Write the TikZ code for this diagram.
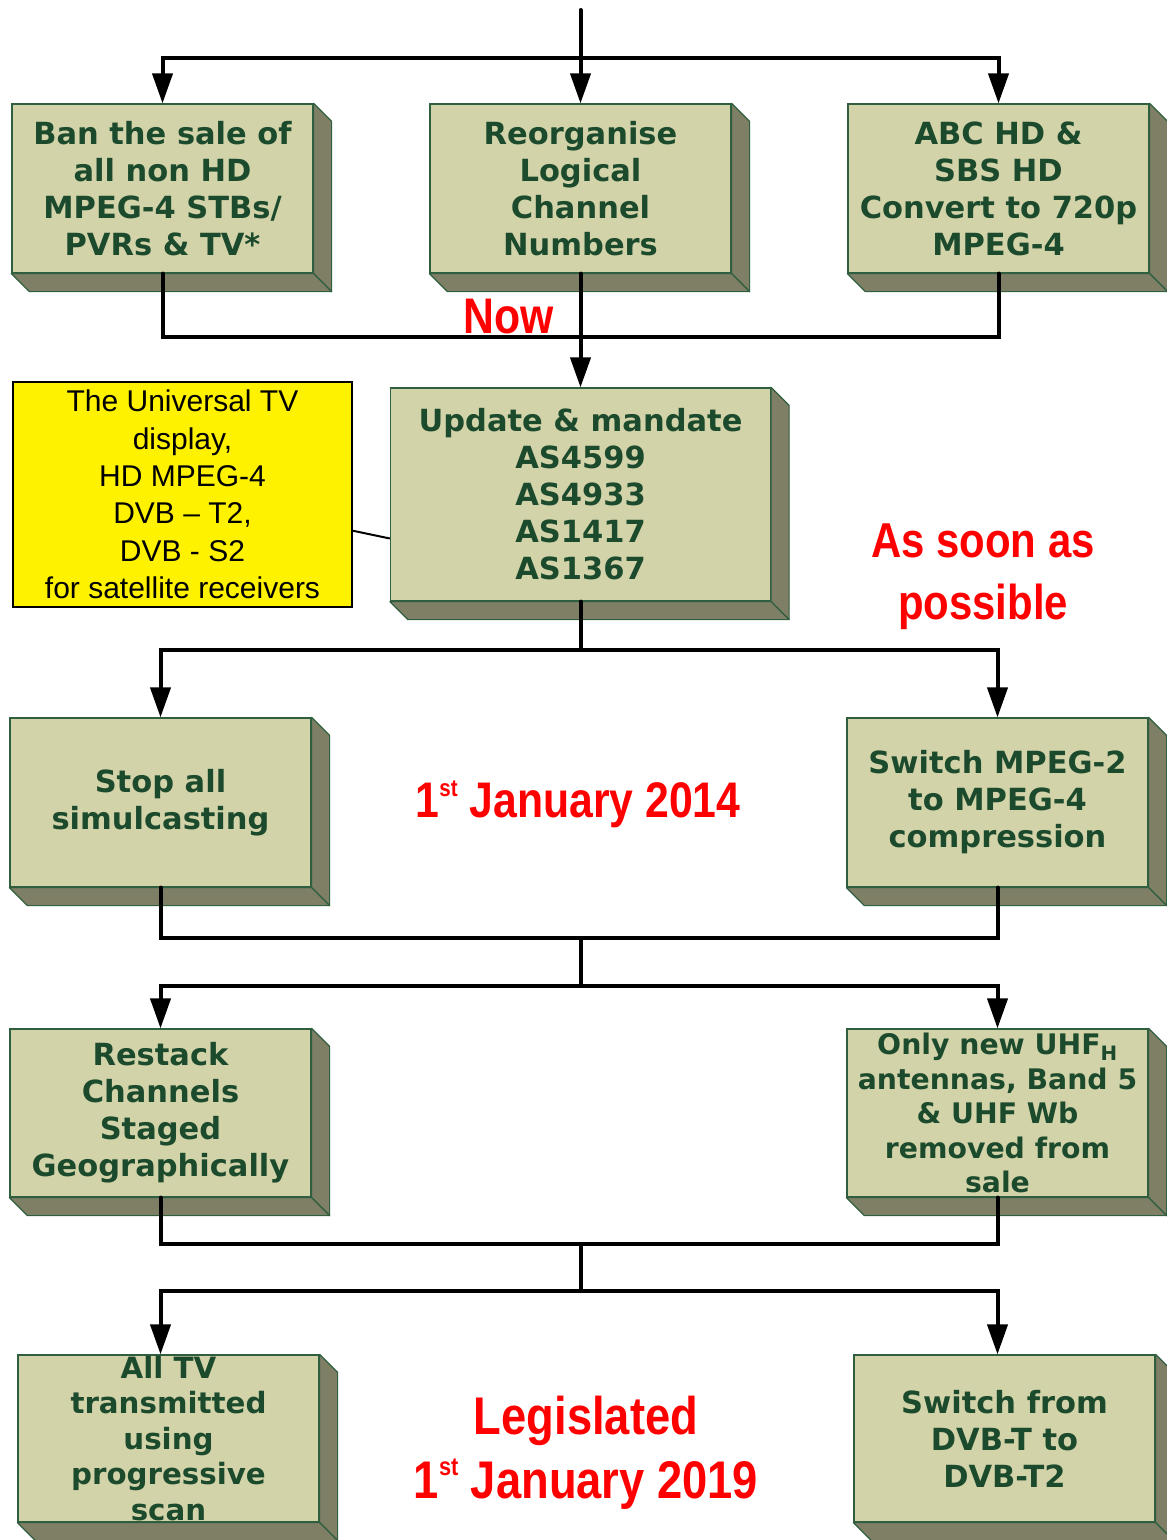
\documentclass[tikz,border=0pt]{standalone}
\usepackage{fontspec}
\newfontfamily\greenfont{DejaVu Sans}
\newfontfamily\notefont{Liberation Sans}
\newfontfamily\redfont{Liberation Sans}[FakeStretch=0.855]
\usepackage{tikz}
\usetikzlibrary{arrows.meta, calc}

\definecolor{boxfill}{HTML}{D3D3AA}
\definecolor{boxside}{HTML}{7F7F66}
\definecolor{boxedge}{HTML}{2F5F3F}
\definecolor{boxtext}{HTML}{1C4A2C}

\newcommand\ordsup[1]{\raisebox{0.42em}{\scalebox{0.48}{#1}}}

\tikzset{
	stage/.style={draw=boxedge, fill=boxfill, line width=1.2pt, text=boxtext, align=center,
		inner sep=0pt, minimum width=301pt, minimum height=169pt,
		font=\greenfont\bfseries\fontsize{30.5}{37}\selectfont},
	side/.style={draw=boxedge, fill=boxside, line width=1.2pt, line join=round},
	conn/.style={line width=4pt, line cap=round},
	when/.style={text=red, anchor=base, inner sep=0pt},
	note/.style={draw=black, fill=yellow, line width=2pt, align=center, inner sep=0pt,
		minimum width=339pt, minimum height=225pt,
		font=\notefont\fontsize{30}{37.4}\selectfont}
}

\begin{document}
\begin{tikzpicture}[x=1pt, y=-1pt, >={Triangle[length=30pt, width=20pt]}]

		\useasboundingbox (0,0) rectangle (1167,1540);

		% Row 1: immediate actions
		\node[stage] (ban) at (162.5, 188.5) {Ban the sale of\\all non HD\\MPEG-4 STBs/\\PVRs \& TV*};
		\node[stage] (lcn) at (580.5, 188.5) {Reorganise\\Logical\\Channel\\Numbers};
		\node[stage] (abc) at (998.5, 188.5) {ABC HD \&\\SBS HD\\Convert to 720p\\MPEG-4};

		% Row 2: standards
		\node[stage, minimum width=380pt, minimum height=213pt] (upd) at (580.5, 494.5)
			{Update \& mandate\\AS4599\\AS4933\\AS1417\\AS1367};
		\node[note] (note) at (182.5, 494.5)
			{The Universal TV\\display,\\HD MPEG-4\\DVB – T2,\\DVB - S2\\for satellite receivers};

		% Row 3: 2014
		\node[stage] (stop) at (160.5, 802.5) {Stop all\\simulcasting};
		\node[stage] (mpeg) at (997.5, 802.5) {Switch MPEG-2\\to MPEG-4\\compression};

		% Row 4: restack
		\node[stage, minimum height=168pt] (restack) at (160.5, 1113) {Restack\\Channels\\Staged\\Geographically};
		\node[stage, minimum height=168pt, font=\greenfont\bfseries\fontsize{28.3}{34.5}\selectfont] (uhf) at (997.5, 1113)
			{Only new UHF\textsubscript{H}\\antennas, Band 5\\\& UHF Wb\\removed from\\sale};

		% Row 5: 2019
		\node[stage, minimum height=167pt, font=\greenfont\bfseries\fontsize{29.3}{35.5}\selectfont] (prog) at (168.5, 1438.5)
			{All TV\\transmitted\\using\\progressive\\scan};
		\node[stage, minimum height=167pt] (dvbt) at (1004.5, 1438.5) {Switch from\\DVB-T to\\DVB-T2};

		% depth faces
		\foreach \b in {ban,lcn,abc,upd,stop,mpeg,restack,uhf,prog,dvbt} {
				\filldraw[side] (\b.north east) -- ++(18,18) -- ($(\b.south east)+(18,18)$) -- (\b.south east) -- cycle;
				\filldraw[side] (\b.south west) -- ++(18,18) -- ($(\b.south east)+(18,18)$) -- (\b.south east) -- cycle;
			}

		% --- Connections ---
		\coordinate (src) at (580.5, 10);
		\coordinate (j0) at (580.5, 58);
		\coordinate (j1) at (580.5, 337);
		\coordinate (j2) at (580.5, 650);
		\coordinate (j3) at (580.5, 938);
		\coordinate (j4) at (580.5, 986);
		\coordinate (j5) at (580.5, 1244);
		\coordinate (j6) at (580.5, 1291);

		\draw[conn, ->] (src) -- (lcn.north);
		\draw[conn, ->] (j0) -| (ban.north);
		\draw[conn, ->] (j0) -| (abc.north);

		\draw[conn] (ban.south) |- (j1) -| (abc.south);
		\draw[conn, ->] (lcn.south) -- (upd.north);
		\draw[line width=2pt] (note.-12.5) -- (upd.193);

		\draw[conn] (upd.south) -- (j2);
		\draw[conn, ->] (j2) -| (stop.north);
		\draw[conn, ->] (j2) -| (mpeg.north);

		\draw[conn] (stop.south) |- (j3) -| (mpeg.south);
		\draw[conn] (j3) -- (j4);
		\draw[conn, ->] (j4) -| (restack.north);
		\draw[conn, ->] (j4) -| (uhf.north);

		\draw[conn] (restack.south) |- (j5) -| (uhf.south);
		\draw[conn] (j5) -- (j6);
		\draw[conn, ->] (j6) -| (restack.south |- prog.north);
		\draw[conn, ->] (j6) -| (uhf.south |- dvbt.north);

		% --- Time labels ---
		\node[when, font=\redfont\bfseries\fontsize{50}{60}\selectfont] (now) at (509, 333) {Now};
		\node[when, font=\redfont\bfseries\fontsize{49}{60}\selectfont] (asap1) at (983, 557) {As soon as};
		\node[when, font=\redfont\bfseries\fontsize{49}{60}\selectfont] (asap2) at (983, 619) {possible};
		\node[when, font=\redfont\bfseries\fontsize{50}{60}\selectfont] (date1) at (578, 817) {1\ordsup{st} January 2014};
		\node[when, font=\redfont\bfseries\fontsize{53}{64}\selectfont] (legis) at (586, 1434) {Legislated};
		\node[when, font=\redfont\bfseries\fontsize{53}{64}\selectfont] (date2) at (586, 1498) {1\ordsup{st} January 2019};

	\end{tikzpicture}
\end{document}
